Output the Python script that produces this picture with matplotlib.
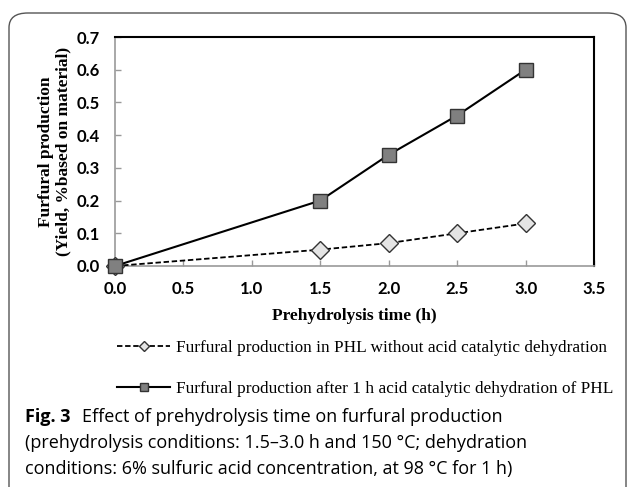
import matplotlib
matplotlib.use("Agg")
import matplotlib.pyplot as plt
from matplotlib.patches import FancyBboxPatch

time_h = [0.0, 1.5, 2.0, 2.5, 3.0]
yield_no_acid = [0.0, 0.05, 0.07, 0.10, 0.13]
yield_acid = [0.0, 0.20, 0.34, 0.46, 0.60]
label_no_acid = "Furfural production in PHL without acid catalytic dehydration"
label_acid = "Furfural production after 1 h acid catalytic dehydration of PHL"
x_ticks = [0.0, 0.5, 1.0, 1.5, 2.0, 2.5, 3.0, 3.5]
y_ticks = [0.0, 0.1, 0.2, 0.3, 0.4, 0.5, 0.6, 0.7]

W, H = 629, 487
fig = plt.figure(figsize=(W / 100, H / 100), dpi=100)

# rounded border
border = FancyBboxPatch((9 / W, -0.05), (626 - 9) / W, (H - 13) / H + 0.05,
                        boxstyle="round,pad=0,rounding_size=0.03",
                        transform=fig.transFigure, fill=False,
                        edgecolor="#555555", linewidth=1.0, clip_on=False)
fig.patches.append(border)

ax = fig.add_axes([115 / W, 1 - 266 / H, (594 - 115) / W, (266 - 37) / H])
l1, = ax.plot(time_h, yield_no_acid, linestyle=(0, (3, 1.5)), color="black", linewidth=1.3,
              marker="D", markersize=9, markerfacecolor="#e4e4e4", markeredgecolor="#333333",
              markeredgewidth=1.0, clip_on=False, zorder=3)
l2, = ax.plot(time_h, yield_acid, linestyle="-", color="black", linewidth=1.5,
              marker="s", markersize=10.5, markerfacecolor="#808080", markeredgecolor="#333333",
              markeredgewidth=1.0, clip_on=False, zorder=4)

ax.set_xlim(0, 3.5)
ax.set_ylim(0, 0.7)
ax.set_xticks(x_ticks)
ax.set_yticks(y_ticks)
ax.set_xticklabels([f"{v:.1f}" for v in x_ticks], fontfamily="Lato", fontweight="bold", fontsize=12)
ax.set_yticklabels([f"{v:.1f}" for v in y_ticks], fontfamily="Lato", fontweight="bold", fontsize=12)
ax.tick_params(axis="both", direction="in", length=4, color="#999999", width=1)
ax.tick_params(axis="x", pad=11)
ax.tick_params(axis="y", pad=11)
for s in ("left", "bottom"):
    ax.spines[s].set_color("#999999")
    ax.spines[s].set_linewidth(1.2)
for s in ("top", "right"):
    ax.spines[s].set_color("black")
    ax.spines[s].set_linewidth(1.5)

ax.set_xlabel("Prehydrolysis time (h)", fontfamily="Liberation Serif", fontweight="bold",
              fontsize=12.5, labelpad=8)
ax.set_ylabel("Furfural production\n(Yield, %based on material)", fontfamily="Liberation Serif",
              fontweight="bold", fontsize=12.5, labelpad=4, linespacing=1.05)

leg = fig.legend([l1, l2], [label_no_acid, label_acid], loc="upper left",
                 bbox_to_anchor=(117 / W, 1 - 340 / H), frameon=False,
                 borderpad=0, borderaxespad=0,
                 prop={"family": "Liberation Serif", "size": 12.4},
                 handlelength=3.1, handletextpad=0.3, labelspacing=1.45, markerscale=0.6)

fig.text(25 / W, 1 - 417 / H, "Fig. 3", fontfamily="Open Sans", fontweight="bold",
         fontsize=13, va="center", ha="left")
fig.text(82 / W, 1 - 417 / H, "Effect of prehydrolysis time on furfural production",
         fontfamily="Open Sans", fontsize=13, va="center", ha="left")
fig.text(25 / W, 1 - 443 / H,
         "(prehydrolysis conditions: 1.5\u20133.0 h and 150 \u00b0C; dehydration",
         fontfamily="Open Sans", fontsize=13, va="center", ha="left")
fig.text(25 / W, 1 - 469 / H,
         "conditions: 6% sulfuric acid concentration, at 98 \u00b0C for 1 h)",
         fontfamily="Open Sans", fontsize=13, va="center", ha="left")

fig.savefig("out.png", dpi=100)
